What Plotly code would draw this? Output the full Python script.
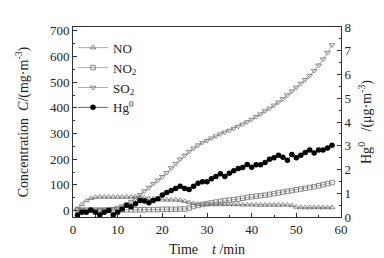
import plotly.graph_objects as go

t = list(range(1, 59))

no = [6, 24, 39, 48, 52, 53, 53, 53, 53, 53, 53, 53, 53, 53, 52, 50, 48, 46, 44, 42,
      42, 42, 42, 40, 36, 32, 28, 25, 24, 24, 24, 24, 24, 24, 24, 24, 24, 23, 23, 23,
      22, 22, 22, 22, 22, 22, 22, 22, 20, 14, 12, 12, 12, 12, 12, 12, 12, 12]
no2 = [4, 2, 2, 2, 2, 2, 2, 2, 2, 2, 3, 3, 3, 3, 3, 3, 4, 4, 4, 5,
       5, 5, 5, 6, 6, 10, 16, 20, 24, 27, 30, 33, 36, 39, 41, 43, 45, 48, 51, 54,
       56, 58, 60, 63, 66, 69, 72, 75, 78, 81, 84, 87, 90, 93, 97, 101, 105, 109]
so2 = [5, 3, 2, 2, 2, 3, 4, 5, 8, 12, 18, 25, 35, 48, 62, 76, 90, 105, 118, 132,
       148, 166, 183, 200, 215, 230, 243, 255, 265, 273, 282, 290, 298, 305, 312, 320, 328, 336, 345, 355,
       366, 376, 388, 398, 410, 422, 435, 450, 465, 480, 495, 510, 526, 545, 566, 590, 615, 645]
hg = [0.08, 0.2, 0.2, 0.3, 0.2, 0.08, 0.2, 0.27, 0.08, 0.2, 0.34, 0.5, 0.43, 0.56, 0.69, 0.67, 0.6, 0.69, 0.77, 0.93,
      1.03, 1.12, 1.2, 1.3, 1.2, 1.16, 1.29, 1.42, 1.48, 1.48, 1.61, 1.71, 1.82, 1.71, 1.84, 1.95, 2.04, 2.08, 2.21, 2.1,
      2.2, 2.2, 2.3, 2.43, 2.5, 2.6, 2.52, 2.39, 2.63, 2.5, 2.6, 2.72, 2.82, 2.69, 2.82, 2.82, 2.91, 3.02]

FONT = "Liberation Serif, Times New Roman, serif"
GRAY = "#707070"

fig = go.Figure()
fig.add_trace(go.Scatter(x=t, y=no, name="NO", mode="lines+markers",
                         line=dict(color=GRAY, width=0.6),
                         marker=dict(symbol="triangle-up-open", size=5, color=GRAY, line=dict(width=0.8))))
fig.add_trace(go.Scatter(x=t, y=no2, name="NO<sub>2</sub>", mode="lines+markers",
                         line=dict(color=GRAY, width=0.6),
                         marker=dict(symbol="square-open", size=4.5, color=GRAY, line=dict(width=0.8))))
fig.add_trace(go.Scatter(x=t, y=so2, name="SO<sub>2</sub>", mode="lines+markers",
                         line=dict(color=GRAY, width=0.6),
                         marker=dict(symbol="triangle-down-open", size=5, color=GRAY, line=dict(width=0.8))))
fig.add_trace(go.Scatter(x=t, y=hg, name="Hg<sup>0</sup>", mode="lines+markers", yaxis="y2",
                         line=dict(color="black", width=0.6),
                         marker=dict(symbol="circle", size=5.5, color="black")))

axis_common = dict(showline=True, linecolor="#333", linewidth=1, ticks="inside",
                   ticklen=4, tickcolor="#333", showgrid=False, zeroline=False,
                   tickfont=dict(family=FONT, size=13, color="#222"))

fig.update_layout(
    width=384, height=258,
    margin=dict(l=65, r=51, t=13, b=41),
    paper_bgcolor="white", plot_bgcolor="white",
    font=dict(family=FONT, size=13, color="#222"),
    showlegend=True,
    legend=dict(x=0.0, y=0.97, xanchor="left", yanchor="top",
                bgcolor="rgba(0,0,0,0)", font=dict(family=FONT, size=13, color="#222"),
                itemwidth=30, tracegroupgap=0),
    xaxis=dict(range=[0, 60], dtick=10, mirror=True,
               minor=dict(dtick=5, ticks="inside", ticklen=2, tickcolor="#333"),
               title=dict(text="Time    <i>t</i> /min", font=dict(family=FONT, size=14), standoff=8),
               **axis_common),
    yaxis=dict(range=[-25, 715], dtick=100, tick0=0,
               minor=dict(dtick=50, ticks="inside", ticklen=2, tickcolor="#333"),
               title=dict(text="Concentration  <i>C</i>/(mg·m<sup>-3</sup>)", font=dict(family=FONT, size=14), standoff=18),
               **axis_common),
    yaxis2=dict(range=[0, 8], dtick=1, overlaying="y", side="right",
                minor=dict(dtick=0.5, ticks="inside", ticklen=2, tickcolor="#333"),
                title=dict(text="Hg<sup>0</sup>   /(μg·m<sup>-3</sup>)", font=dict(family=FONT, size=14), standoff=10),
                **axis_common),
)

fig.write_html("out.html")
